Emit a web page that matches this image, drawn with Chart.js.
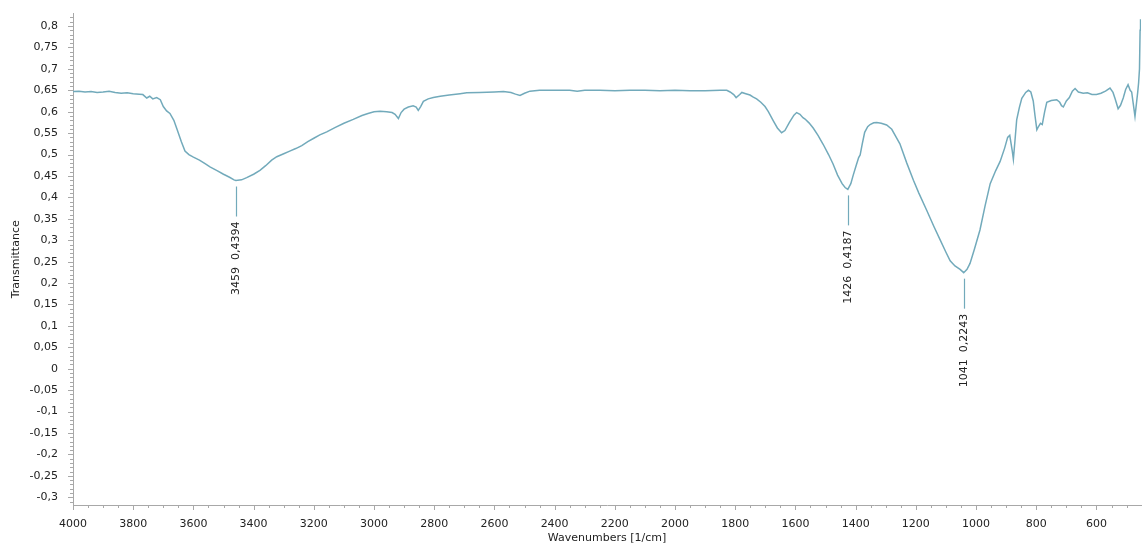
<!DOCTYPE html>
<html>
<head>
<meta charset="utf-8">
<script src="https://cdn.jsdelivr.net/npm/chart.js@4.4.1/dist/chart.umd.min.js"></script>
<style>
  html, body { margin: 0; padding: 0; background: #ffffff; }
  #wrap { width: 1143px; height: 550px; position: relative; }
</style>
</head>
<body>
<div id="wrap"><canvas id="c" width="1143" height="550"></canvas></div>
<script>
// ---- Data ----
const wavenumbers = [
  4000,3980,3960,3940,3920,3900,3880,3860,3840,3820,3800,3780,3768,3755,3745,3735,3722,3710,3700,3689,
  3678,3665,3655,3640,3628,3615,3600,3580,3560,3545,3520,3500,3480,3465,3459,3440,3423,3400,3379,3360,
  3340,3323,3300,3280,3260,3240,3220,3200,3180,3157,3130,3100,3069,3040,3020,3000,2980,2958,2940,2930,
  2919,2910,2900,2886,2870,2860,2853,2845,2836,2820,2803,2780,2750,2714,2692,2650,2600,2570,2545,2530,
  2515,2500,2482,2450,2400,2350,2325,2300,2250,2200,2150,2100,2050,2000,1950,1900,1850,1828,1817,1805,
  1797,1785,1778,1765,1751,1740,1729,1715,1701,1690,1673,1660,1646,1635,1620,1605,1596,1585,1575,1568,
  1555,1541,1525,1508,1490,1475,1460,1445,1435,1426,1416,1408,1398,1390,1385,1378,1370,1360,1352,1340,
  1330,1315,1297,1280,1265,1253,1230,1208,1190,1164,1140,1120,1100,1086,1070,1053,1041,1030,1020,1005,
  987,970,953,935,920,905,895,888,880,876,871,865,856,848,835,826,818,810,804,798,
  792,786,780,772,765,750,732,722,716,710,700,690,680,671,660,644,630,615,600,585,
  570,555,545,538,528,520,511,503,495,488,483,478,472,467,463,460,457,455,454,453
];
const transmittance = [
  0.647,0.648,0.646,0.647,0.645,0.646,0.648,0.645,0.643,0.644,0.642,0.641,0.640,0.632,0.636,0.630,0.633,0.628,0.612,0.602,
  0.596,0.580,0.560,0.530,0.508,0.500,0.494,0.487,0.478,0.471,0.462,0.454,0.447,0.441,0.4394,0.441,0.446,0.454,0.463,0.474,
  0.487,0.495,0.502,0.508,0.514,0.521,0.530,0.538,0.546,0.553,0.563,0.573,0.582,0.591,0.596,0.600,0.601,0.600,0.598,0.594,
  0.584,0.598,0.606,0.611,0.614,0.611,0.603,0.612,0.624,0.630,0.633,0.636,0.639,0.642,0.644,0.645,0.646,0.647,0.645,0.641,
  0.638,0.643,0.648,0.650,0.650,0.650,0.648,0.650,0.650,0.649,0.650,0.650,0.649,0.650,0.649,0.649,0.650,0.650,0.646,0.640,
  0.633,0.640,0.645,0.642,0.639,0.634,0.630,0.622,0.612,0.600,0.578,0.562,0.551,0.556,0.575,0.592,0.598,0.594,0.586,0.583,
  0.574,0.562,0.545,0.524,0.500,0.478,0.452,0.432,0.423,0.4187,0.432,0.452,0.475,0.493,0.499,0.525,0.552,0.565,0.570,0.574,
  0.575,0.573,0.569,0.559,0.540,0.525,0.480,0.440,0.410,0.370,0.332,0.302,0.272,0.252,0.240,0.232,0.2243,0.232,0.246,0.280,
  0.324,0.380,0.432,0.462,0.484,0.515,0.540,0.545,0.510,0.489,0.530,0.581,0.610,0.631,0.645,0.650,0.646,0.625,0.590,0.558,
  0.566,0.573,0.570,0.600,0.622,0.626,0.628,0.622,0.614,0.611,0.625,0.633,0.648,0.654,0.646,0.643,0.644,0.640,0.640,0.643,
  0.648,0.655,0.645,0.630,0.607,0.615,0.632,0.652,0.663,0.650,0.646,0.620,0.589,0.620,0.645,0.667,0.700,0.790,0.812,0.816
];
const xTickValues = [4000,3800,3600,3400,3200,3000,2800,2600,2400,2200,2000,1800,1600,1400,1200,1000,800,600];
const peakWavenumbers = [3459, 1426, 1041];
const peakValues = [0.4394, 0.4187, 0.2243];
const peakLabels = ["3459  0,4394", "1426  0,4187", "1041  0,2243"];

const LINE = '#72aabb';
const AXIS = '#a8a8a8';
const FONT = "'DejaVu Sans', Verdana, sans-serif";

function fmt(v) { return String(Math.round(v * 100) / 100).replace('.', ','); }

const ticksPlugin = {
  id: 'ticksAndPeaks',
  afterDraw(chart) {
    const ctx = chart.ctx;
    const xs = chart.scales.x, ys = chart.scales.y;
    const a = chart.chartArea;
    ctx.save();
    ctx.strokeStyle = AXIS;
    ctx.lineWidth = 1;
    for (let i = -31; i <= 82; i++) {
      const v = i / 100;
      const py = Math.round(ys.getPixelForValue(v)) + 0.5;
      const len = (i % 5 === 0) ? 5 : 3;
      ctx.beginPath(); ctx.moveTo(a.left, py); ctx.lineTo(a.left - len, py); ctx.stroke();
    }
    for (let w = 4000; w >= 500; w -= 50) {
      const px = Math.round(xs.getPixelForValue(w)) + 0.5;
      const len = (w % 200 === 0) ? 5 : 3;
      ctx.beginPath(); ctx.moveTo(px, a.bottom); ctx.lineTo(px, a.bottom + len); ctx.stroke();
    }
    ctx.strokeStyle = LINE;
    ctx.lineWidth = 1.2;
    ctx.fillStyle = '#222';
    ctx.font = "11px " + FONT;
    for (let k = 0; k < peakWavenumbers.length; k++) {
      const px = Math.round(xs.getPixelForValue(peakWavenumbers[k])) + 0.5;
      const py = ys.getPixelForValue(peakValues[k]);
      ctx.beginPath(); ctx.moveTo(px, py + 6); ctx.lineTo(px, py + 36); ctx.stroke();
      ctx.save();
      ctx.translate(px, py + 41);
      ctx.rotate(-Math.PI / 2);
      ctx.textAlign = 'right';
      ctx.textBaseline = 'middle';
      ctx.fillText(peakLabels[k], 0, 0);
      ctx.restore();
    }
    ctx.restore();
  }
};

const points = wavenumbers.map((w, i) => ({ x: w, y: transmittance[i] }));

new Chart(document.getElementById('c'), {
  type: 'line',
  data: {
    datasets: [{
      data: points,
      borderColor: LINE,
      borderWidth: 1.5,
      pointRadius: 0,
      tension: 0,
      fill: false
    }]
  },
  options: {
    responsive: false,
    animation: false,
    events: [],
    layout: { padding: { top: 8, right: 2, left: 0, bottom: 0 } },
    plugins: { legend: { display: false }, tooltip: { enabled: false } },
    scales: {
      x: {
        type: 'linear',
        reverse: true,
        min: 452,
        max: 4000,
        afterFit(s) { s.height = 45; },
        afterBuildTicks(s) { s.ticks = xTickValues.map(v => ({ value: v })); },
        grid: { display: false },
        border: { display: true, color: AXIS, width: 1 },
        ticks: { padding: 5, maxRotation: 0, autoSkip: false, color: '#222', font: { family: FONT, size: 11 }, callback: (v) => String(v) },
        title: { display: true, text: 'Wavenumbers [1/cm]', color: '#222', font: { family: FONT, size: 11 }, padding: { top: 0, bottom: 5 } }
      },
      y: {
        type: 'linear',
        min: -0.318,
        max: 0.829,
        afterFit(s) { s.width = 73; },
        afterBuildTicks(s) {
          const t = [];
          for (let i = -6; i <= 16; i++) t.push({ value: i * 0.05 });
          s.ticks = t;
        },
        grid: { display: false },
        border: { display: true, color: AXIS, width: 1 },
        ticks: { padding: 7, autoSkip: false, color: '#222', font: { family: FONT, size: 11 }, callback: (v) => fmt(v) },
        title: { display: true, text: 'Transmittance', color: '#222', font: { family: FONT, size: 11 }, padding: { top: 10, bottom: 0 } }
      }
    }
  },
  plugins: [ticksPlugin]
});
</script>
</body>
</html>
